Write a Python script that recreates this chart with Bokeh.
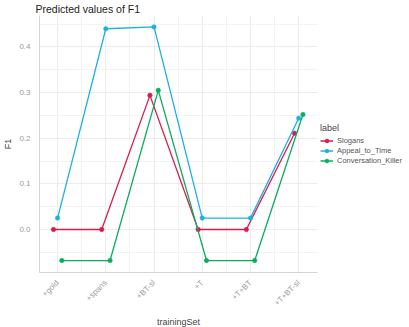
import numpy as np
from bokeh.plotting import figure
from bokeh.models import (Range1d, FixedTicker, Legend, LegendItem,
                          ColumnDataSource, PrintfTickFormatter)
from bokeh.transform import dodge
from bokeh.embed import file_html
from bokeh.resources import INLINE

# ---- data ----
training_sets = ["+gold", "+spans", "+BT-sl", "+T", "+T+BT", "+T+BT-sl"]
series_names = ["Slogans", "Appeal_to_Time", "Conversation_Killer"]
slogans = [0.0, 0.0, 0.294, 0.0, 0.0, 0.211]
appeal_to_time = [0.025, 0.440, 0.444, 0.025, 0.025, 0.244]
conversation_killer = [-0.068, -0.068, 0.305, -0.068, -0.068, 0.252]
y_ticks = [0.0, 0.1, 0.2, 0.3, 0.4]
y_minor = [-0.05, 0.05, 0.15, 0.25, 0.35, 0.45]

colors = ["#d81b4c", "#1cb1e2", "#0aad5e"]
offsets = [-0.085, 0.0, 0.088]
FONT = "Liberation Sans"

x_pos = list(range(len(training_sets)))

p = figure(frame_width=278, frame_height=257, output_backend="svg", toolbar_location=None,
           x_range=Range1d(-0.375, len(training_sets) - 1 + 0.39),
           y_range=Range1d(-0.0942, 0.469),
           min_border_left=0, min_border_right=0, min_border_top=0, min_border_bottom=0)

items = []
for name, vals, col, off in zip(series_names, [slogans, appeal_to_time, conversation_killer],
                                colors, offsets):
    src = ColumnDataSource(dict(x=x_pos, y=vals))
    r1 = p.line(x=dodge("x", off), y="y", source=src, line_color=col, line_width=1.3)
    r2 = p.scatter(x=dodge("x", off), y="y", source=src, size=4.5,
                   fill_color=col, line_color=col, line_width=0.5)
    items.append(LegendItem(label=name, renderers=[r1, r2]))

# title
p.title.text = "Predicted values of F1"
p.title.text_font = FONT
p.title.text_font_size = "10.5px"
p.title.text_font_style = "normal"
p.title.text_color = "#222222"
p.title.align = "left"
p.title.standoff = 1
p.title.offset = -4

# axes
p.xaxis.ticker = FixedTicker(ticks=x_pos,
                             minor_ticks=[i + 0.5 for i in range(-1, len(training_sets))])
p.xaxis.major_label_overrides = {i: t for i, t in enumerate(training_sets)}
p.xaxis.major_label_orientation = np.pi / 4
p.yaxis.ticker = FixedTicker(ticks=y_ticks, minor_ticks=y_minor)
p.yaxis.formatter = PrintfTickFormatter(format="%.1f")

p.xaxis.axis_label = "trainingSet"
p.yaxis.axis_label = "F1"
for ax in [p.xaxis[0], p.yaxis[0]]:
    ax.axis_line_color = "#d4d4d4"
    ax.axis_line_width = 1
    ax.major_tick_line_color = None
    ax.minor_tick_line_color = None
    ax.major_label_text_font = FONT
    ax.major_label_text_font_size = "8px"
    ax.major_label_text_color = "#9b9b9b"
    ax.major_label_standoff = 3
    ax.axis_label_text_font = FONT
    ax.axis_label_text_font_size = "9px"
    ax.axis_label_text_font_style = "normal"
    ax.axis_label_text_color = "#444444"
    ax.axis_label_standoff = 3

# grid
p.xgrid.grid_line_color = "#ececec"
p.ygrid.grid_line_color = "#ececec"
p.xgrid.minor_grid_line_color = "#f3f3f3"
p.ygrid.minor_grid_line_color = "#f3f3f3"
p.outline_line_color = None

legend = Legend(items=items, location="center_left", title="label")
legend.title_text_font = FONT
legend.title_text_font_size = "9px"
legend.title_text_font_style = "normal"
legend.title_text_color = "#444444"
legend.title_standoff = 3
legend.label_text_font = FONT
legend.label_text_font_size = "7.5px"
legend.label_text_color = "#555555"
legend.glyph_width = 13
legend.glyph_height = 10
legend.label_height = 10
legend.label_standoff = 4
legend.spacing = 0
legend.padding = 2
legend.margin = 3
legend.border_line_color = None
legend.background_fill_color = None
p.add_layout(legend, "right")

open("out.html", "w").write(file_html(p, INLINE))
